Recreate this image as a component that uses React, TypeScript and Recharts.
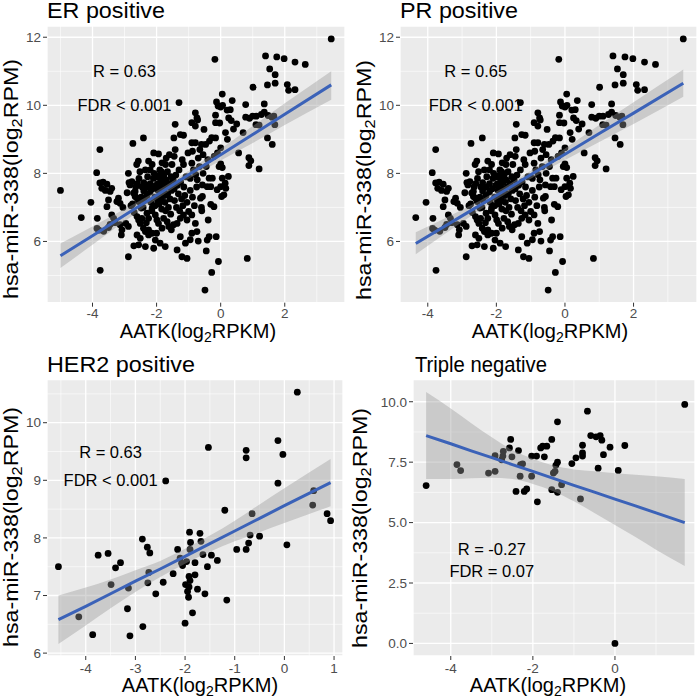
import React from "react";
import {
  Area,
  CartesianGrid,
  ComposedChart,
  Line,
  ReferenceDot,
  ReferenceLine,
  Scatter,
  XAxis,
  YAxis
} from "recharts";

type Pt = [number, number];
// [x, lower, fit, upper] of the smooth line and its confidence band
type BandRow = [number, number, number, number];

const FONT = "'Liberation Sans', Arial, Helvetica, sans-serif";

// ER positive: AATK vs hsa-miR-338
const erPoints: Pt[] = [
  [-5.0, 7.5], [-4.35, 6.7], [-4.05, 7.15], [-3.87, 8.02], [-3.77, 8.7], [-3.85, 6.68], [-3.86, 6.38],
  [-3.8, 6.33], [-3.76, 5.15], [-3.77, 7.72], [-3.67, 7.74], [-3.71, 7.56], [-3.6, 7.5], [-3.55, 7.68],
  [-3.55, 7.02], [-3.5, 7.22], [-3.65, 6.3],
  [-3.45, 7.47], [-3.4, 7.56], [-3.45, 6.5], [-3.5, 6.41], [-3.4, 6.78], [-3.34, 6.68], [-3.24, 7.17],
  [-3.19, 7.27], [-3.14, 7.12], [-3.14, 6.49], [-3.08, 6.34], [-3.1, 6.19], [-3.3, 6.55], [-3.05, 7.0],
  [-2.96, 6.53], [-2.88, 6.44], [-2.88, 8.0], [-2.86, 7.73], [-2.92, 7.43], [-2.88, 5.55], [-2.83, 7.66],
  [-2.77, 7.76], [-2.74, 8.88], [-2.72, 7.42], [-2.67, 7.32], [-2.67, 7.47], [-2.61, 7.27], [-2.56, 7.17],
  [-2.48, 6.98], [-2.71, 5.87], [-2.61, 6.73], [-2.56, 6.63], [-2.61, 6.19], [-2.51, 6.09], [-2.51, 6.53],
  [-2.56, 5.9], [-2.57, 8.36], [-2.62, 8.26], [-2.7, 6.85], [-2.75, 7.1], [-2.8, 7.05], [-2.65, 7.6],
  [-2.55, 7.85], [-2.52, 8.05], [-2.6, 7.7],
  [-2.41, 9.04], [-2.46, 6.68], [-2.41, 6.39], [-2.35, 6.29], [-2.35, 5.85], [-2.3, 6.83], [-2.25, 6.68],
  [-2.25, 6.34], [-2.25, 6.19], [-2.25, 8.36], [-2.14, 8.26], [-2.14, 6.24], [-2.14, 6.98], [-2.09, 5.8],
  [-2.09, 8.6], [-2.04, 6.04], [-2.04, 6.78], [-2.0, 6.24], [-2.4, 7.73], [-2.4, 7.48], [-2.38, 7.2],
  [-2.42, 7.0], [-2.3, 7.6], [-2.3, 7.35], [-2.28, 7.9], [-2.2, 8.1], [-2.2, 7.7], [-2.2, 7.45],
  [-2.18, 7.15], [-2.15, 6.9], [-2.12, 7.55], [-2.1, 7.85], [-2.08, 8.0], [-2.05, 7.3], [-2.05, 7.05],
  [-2.02, 7.65], [-2.45, 7.6], [-2.35, 8.1], [-2.48, 7.3], [-2.32, 6.55],
  [-1.99, 6.63], [-1.94, 6.53], [-1.94, 8.57], [-1.89, 5.95], [-1.83, 6.39], [-1.83, 8.31], [-1.78, 6.68],
  [-1.73, 5.85], [-1.72, 8.26], [-1.67, 6.58], [-1.62, 6.44], [-1.54, 6.34], [-1.52, 8.26], [-1.98, 7.9],
  [-1.96, 7.7], [-1.95, 7.5], [-1.93, 7.3], [-1.92, 7.1], [-1.9, 8.1], [-1.88, 7.85], [-1.87, 7.6],
  [-1.86, 7.4], [-1.85, 7.2], [-1.84, 6.95], [-1.82, 8.0], [-1.8, 7.75], [-1.78, 7.55], [-1.77, 7.95],
  [-1.75, 7.35], [-1.74, 7.15], [-1.72, 6.9], [-1.7, 7.8], [-1.68, 7.6], [-1.66, 8.05], [-1.65, 7.4],
  [-1.63, 7.0], [-1.6, 7.7], [-1.58, 7.25], [-1.56, 6.8], [-1.55, 7.9], [-1.53, 7.5], [-1.9, 7.95],
  [-1.85, 8.05], [-1.8, 7.92], [-1.76, 7.82], [-1.97, 7.2], [-1.6, 8.55], [-1.7, 8.45],
  [-1.47, 6.49], [-1.46, 9.04], [-1.42, 9.44], [-1.42, 8.7], [-1.36, 6.53], [-1.36, 5.75], [-1.3, 10.08],
  [-1.26, 9.14], [-1.26, 6.68], [-1.26, 6.14], [-1.21, 5.55], [-1.16, 9.12], [-1.16, 8.26], [-1.16, 6.78],
  [-1.1, 5.95], [-1.05, 5.5], [-1.05, 6.63], [-1.0, 6.88], [-1.48, 7.8], [-1.45, 7.55], [-1.44, 7.2],
  [-1.4, 7.95], [-1.38, 7.0], [-1.35, 7.65], [-1.32, 7.4], [-1.3, 8.1], [-1.28, 6.9], [-1.25, 7.75],
  [-1.22, 7.25], [-1.2, 8.4], [-1.18, 7.05], [-1.15, 7.6], [-1.12, 7.35], [-1.08, 7.9], [-1.05, 7.15],
  [-1.02, 8.6], [-1.45, 8.5],
  [-0.9, 6.78], [-0.9, 6.24], [-0.95, 6.05], [-0.9, 8.9], [-0.79, 8.9], [-0.88, 8.65], [-0.9, 9.49],
  [-0.79, 9.39], [-0.79, 9.78], [-0.74, 9.63], [-0.79, 6.53], [-0.74, 6.29], [-0.78, 7.96], [-0.73, 7.81],
  [-0.72, 9.57], [-0.7, 6.01], [-0.66, 8.2], [-0.63, 7.27], [-0.59, 6.9], [-0.57, 7.32], [-0.57, 7.66],
  [-0.52, 9.29], [-0.49, 4.57], [-0.45, 5.72], [-0.95, 7.5], [-0.88, 7.3], [-0.85, 8.1], [-0.82, 7.05],
  [-0.75, 7.6], [-0.7, 8.45], [-0.65, 8.7], [-0.6, 7.0], [-0.55, 8.0], [-0.55, 8.55], [-0.9, 8.3],
  [-0.95, 7.85], [-0.6, 8.85],
  [-0.42, 6.04], [-0.36, 6.14], [-0.39, 6.63], [-0.42, 7.61], [-0.36, 7.86], [-0.31, 7.61], [-0.31, 7.09],
  [-0.28, 5.09], [-0.28, 9.05], [-0.26, 7.86], [-0.21, 7.02], [-0.18, 11.35], [-0.16, 9.71], [-0.16, 9.49],
  [-0.16, 9.04], [-0.14, 6.14], [-0.13, 10.1], [-0.11, 7.52], [-0.08, 9.98], [-0.07, 5.41], [-0.05, 8.2],
  [-0.03, 9.48], [0.0, 9.95], [0.0, 7.61], [0.0, 8.75], [0.0, 8.28], [-0.47, 8.85], [-0.4, 8.4],
  [-0.35, 8.95], [-0.2, 8.5], [-0.1, 8.6], [-0.45, 8.2],
  [0.05, 10.33], [0.06, 10.0], [0.03, 7.32], [0.05, 7.86], [0.05, 8.17], [0.1, 7.37], [0.14, 7.71],
  [0.16, 7.56], [0.24, 7.91], [0.2, 9.86], [0.21, 9.0], [0.25, 9.63], [0.3, 9.87], [0.33, 9.55],
  [0.36, 10.14], [0.56, 8.6], [0.78, 10.02], [0.78, 9.65], [0.83, 5.5], [0.88, 8.46], [0.88, 8.23],
  [0.9, 9.62], [0.94, 8.37], [0.4, 9.3], [0.5, 9.45], [0.7, 9.2], [0.15, 9.2],
  [1.0, 9.68], [1.01, 10.53], [1.1, 9.43], [1.11, 9.68], [1.2, 9.42], [1.2, 8.13], [1.27, 9.73],
  [1.36, 10.04], [1.36, 9.8], [1.4, 11.45], [1.46, 10.6], [1.46, 9.04], [1.48, 9.7], [1.53, 11.07],
  [1.6, 9.65], [1.61, 8.85], [1.66, 9.68], [1.69, 9.43], [1.7, 10.9], [1.7, 10.65], [1.75, 11.42],
  [1.98, 11.37], [2.08, 10.61], [2.12, 10.44], [2.32, 11.27], [2.32, 10.46], [2.64, 11.2], [3.45, 11.95]
];

// PR positive shows the same samples, without the point at x = -5
const prPoints: Pt[] = erPoints.filter(([x]) => x > -4.9);

const herPoints: Pt[] = [
  [-4.55, 7.5], [-4.14, 6.63], [-3.86, 6.32], [-3.75, 7.7], [-3.55, 7.73], [-3.3, 7.57], [-3.4, 7.48],
  [-3.49, 7.19], [-3.14, 7.13], [-3.16, 6.77], [-3.11, 6.3], [-2.85, 6.46], [-2.86, 7.98], [-2.76, 7.84],
  [-2.71, 7.74], [-2.73, 7.4], [-2.75, 7.22], [-2.59, 7.03], [-2.44, 7.23], [-2.39, 8.99], [-2.24, 7.38],
  [-2.15, 7.8], [-2.1, 7.65], [-2.07, 7.56], [-2.05, 7.52], [-1.99, 7.19], [-1.97, 7.59], [-2.0, 6.52],
  [-1.95, 7.07], [-1.93, 6.97], [-1.91, 8.1], [-1.89, 7.92], [-1.9, 7.8], [-1.92, 7.33], [-1.9, 7.26],
  [-1.92, 7.15], [-1.85, 6.7], [-1.8, 7.57], [-1.8, 7.36], [-1.75, 7.11], [-1.7, 8.08], [-1.68, 7.94],
  [-1.64, 7.71], [-1.6, 7.03], [-1.55, 7.5], [-1.53, 9.57], [-1.47, 7.7], [-1.35, 7.61], [-1.2, 8.48],
  [-1.16, 6.92], [-0.96, 7.8], [-0.77, 9.52], [-0.77, 9.39], [-0.77, 7.8], [-0.72, 7.91], [-0.69, 8.05],
  [-0.65, 8.42], [-0.5, 8.03], [-0.13, 9.69], [-0.13, 8.95], [-0.03, 9.45], [0.05, 7.88], [0.26, 10.53],
  [0.59, 8.82], [0.57, 8.57], [0.86, 8.42], [0.93, 8.3]
];

const tnPoints: Pt[] = [
  [-4.6, 6.53], [-3.85, 7.4], [-3.76, 7.15], [-3.08, 7.05], [-2.92, 7.12], [-2.92, 7.77], [-2.73, 7.75],
  [-2.72, 7.95], [-2.76, 7.6], [-2.54, 8.44], [-2.57, 8.09], [-2.51, 7.72], [-2.41, 6.29], [-2.35, 7.98],
  [-2.31, 6.92], [-2.3, 7.4], [-2.25, 7.43], [-2.21, 6.29], [-2.15, 6.39], [-2.03, 7.75], [-2.03, 6.92],
  [-1.91, 7.75], [-1.89, 5.86], [-1.81, 8.09], [-1.76, 8.16], [-1.72, 7.72], [-1.66, 8.16], [-1.54, 8.44],
  [-1.54, 6.36], [-1.5, 7.05], [-1.46, 7.12], [-1.44, 7.37], [-1.4, 9.17], [-1.4, 7.5], [-1.4, 6.25],
  [-1.3, 6.57], [-1.05, 7.44], [-0.95, 7.68], [-0.84, 5.98], [-0.79, 8.2], [-0.79, 7.88], [-0.79, 7.75],
  [-0.67, 9.61], [-0.59, 8.6], [-0.46, 8.55], [-0.41, 7.25], [-0.36, 8.6], [-0.32, 8.41], [-0.28, 7.81],
  [-0.12, 8.12], [0.0, 0.0], [0.08, 7.16], [0.24, 8.19], [1.7, 9.89]
];

const erBand: BandRow[] = [
  [-5, 5.22, 5.58, 5.94], [-4, 5.9, 6.17, 6.44], [-3, 6.59, 6.77, 6.95], [-2, 7.24, 7.36, 7.48],
  [-1.5, 7.55, 7.66, 7.77], [-1, 7.84, 7.96, 8.08], [0, 8.38, 8.55, 8.72], [1, 8.89, 9.14, 9.39],
  [2, 9.42, 9.74, 10.06], [3.45, 10.16, 10.6, 11.0]
];
const prBand: BandRow[] = [
  [-4.35, 5.62, 5.94, 6.27], [-3, 6.57, 6.75, 6.93], [-2, 7.23, 7.35, 7.47], [-1.5, 7.54, 7.65, 7.76],
  [-1, 7.84, 7.96, 8.08], [0, 8.39, 8.56, 8.73], [1, 8.92, 9.17, 9.42], [2, 9.45, 9.77, 10.09],
  [3.45, 10.25, 10.65, 11.05]
];
const herBand: BandRow[] = [
  [-4.55, 6.16, 6.58, 7.0], [-4, 6.48, 6.81, 7.14], [-3.5, 6.78, 7.03, 7.28], [-3, 7.06, 7.25, 7.44],
  [-2.5, 7.32, 7.46, 7.6], [-2, 7.55, 7.68, 7.81], [-1.5, 7.76, 7.9, 8.04], [-1, 7.94, 8.12, 8.3],
  [-0.5, 8.1, 8.34, 8.58], [0, 8.26, 8.56, 8.86], [0.93, 8.55, 8.96, 9.37]
];
const tnBand: BandRow[] = [
  [-4.6, 6.8, 8.6, 10.4], [-4, 6.8, 8.26, 9.72], [-3.5, 6.83, 7.97, 9.11], [-3, 6.85, 7.69, 8.53],
  [-2.5, 6.8, 7.4, 8.0], [-2, 6.6, 7.12, 7.64], [-1.5, 6.3, 6.83, 7.36], [-1, 5.88, 6.54, 7.2],
  [-0.5, 5.4, 6.26, 7.12], [0, 4.9, 5.97, 7.04], [0.5, 4.4, 5.69, 6.98], [1, 3.88, 5.4, 6.92],
  [1.7, 3.2, 5.0, 6.8]
];

const erXTicks = [-4, -2, 0, 2];
const erXMinor = [-5, -3, -1, 1, 3];
const prXMinor = [-3, -1, 1, 3];
const erYTicks = [6, 8, 10, 12];
const erYMinor = [5, 7, 9, 11];
const herXTicks = [-4, -3, -2, -1, 0, 1];
const herXMinor = [-4.5, -3.5, -2.5, -1.5, -0.5, 0.5];
const herYTicks = [6, 7, 8, 9, 10];
const herYMinor = [6.5, 7.5, 8.5, 9.5, 10.5];
const tnXTicks = [-4, -2, 0];
const tnXMinor = [-3, -1, 1];
const tnYTicks = [0, 2.5, 5, 7.5, 10];
const tnYMinor = [1.25, 3.75, 6.25, 8.75];

const erNotes = [{ x: -3, y: 11, text: "R = 0.63" }, { x: -3, y: 10, text: "FDR < 0.001" }];
const prNotes = [{ x: -2.6, y: 11, text: "R = 0.65" }, { x: -2.6, y: 10, text: "FDR < 0.001" }];
const herNotes = [{ x: -3.5, y: 9.5, text: "R = 0.63" }, { x: -3.5, y: 9.0, text: "FDR < 0.001" }];
const tnNotes = [{ x: -3, y: 3.9, text: "R = -0.27" }, { x: -3, y: 3.0, text: "FDR = 0.07" }];

const X_AXIS_H = 30;
const tickStyle = { fill: "#4d4d4d", fontSize: 13.5, fontFamily: FONT };

const Dot = (props: any) => <circle cx={props.cx} cy={props.cy} r={3.4} fill="#000" />;

interface PanelProps {
  cell: { x: number; y: number; w: number; h: number };
  plot: { left: number; top: number; right: number; bottom: number };
  xDomain: [number, number];
  yDomain: [number, number];
  xTicks: number[];
  yTicks: number[];
  xMinor: number[];
  yMinor: number[];
  points: Pt[];
  band: BandRow[];
  notes: { x: number; y: number; text: string }[];
  xTickGap?: number;
  yFmt?: (v: number) => string;
}

function Panel(p: PanelProps) {
  const margin = {
    top: p.plot.top - p.cell.y,
    right: p.cell.x + p.cell.w - p.plot.right,
    left: 0,
    bottom: p.cell.y + p.cell.h - p.plot.bottom - X_AXIS_H
  };
  // the smooth layer sits on top of the points, with hidden axes and the same plot box
  const overlayMargin = {
    top: p.plot.top - p.cell.y,
    right: p.cell.x + p.cell.w - p.plot.right,
    left: p.plot.left - p.cell.x,
    bottom: p.cell.y + p.cell.h - p.plot.bottom
  };
  const bandData = p.band.map(([x, lo, fit, hi]) => ({ x, band: [lo, hi], fit }));
  const pts = p.points.map(([x, y]) => ({ x, y }));

  return (
    <>
      <div style={{ position: "absolute", left: p.cell.x, top: p.cell.y }}>
        <ComposedChart width={p.cell.w} height={p.cell.h} margin={margin}>
          <CartesianGrid fill="#ebebeb" stroke="#ffffff" strokeWidth={1.3} />
          <XAxis
            type="number"
            dataKey="x"
            domain={p.xDomain}
            ticks={p.xTicks}
            interval={0}
            allowDataOverflow
            axisLine={false}
            tickLine={{ stroke: "#333333" }}
            tickSize={4}
            tickMargin={p.xTickGap ?? 2}
            height={X_AXIS_H}
            tick={tickStyle}
          />
          <YAxis
            type="number"
            domain={p.yDomain}
            ticks={p.yTicks}
            interval={0}
            allowDataOverflow
            axisLine={false}
            tickLine={{ stroke: "#333333" }}
            tickSize={4}
            tickMargin={2}
            width={p.plot.left - p.cell.x}
            tick={tickStyle}
            tickFormatter={p.yFmt}
          />
          {p.xMinor.map((v) => (
            <ReferenceLine key={"mx" + v} x={v} stroke="#ffffff" strokeWidth={0.6} />
          ))}
          {p.yMinor.map((v) => (
            <ReferenceLine key={"my" + v} y={v} stroke="#ffffff" strokeWidth={0.6} />
          ))}
          <Scatter data={pts} dataKey="y" shape={Dot} isAnimationActive={false} />
          {p.notes.map((n) => (
            <ReferenceDot
              key={n.text}
              x={n.x}
              y={n.y}
              r={0}
              ifOverflow="visible"
              shape={(s: any) => (
                <text
                  x={s.cx}
                  y={s.cy + 6}
                  textAnchor="middle"
                  fontSize={16.5}
                  fontFamily={FONT}
                  fill="#000"
                >
                  {n.text}
                </text>
              )}
            />
          ))}
        </ComposedChart>
      </div>
      <div style={{ position: "absolute", left: p.cell.x, top: p.cell.y }}>
        <ComposedChart width={p.cell.w} height={p.cell.h} data={bandData} margin={overlayMargin}>
          <XAxis type="number" dataKey="x" domain={p.xDomain} allowDataOverflow hide />
          <YAxis type="number" domain={p.yDomain} allowDataOverflow hide />
          <Area
            dataKey="band"
            type="monotone"
            fill="#999999"
            fillOpacity={0.4}
            stroke="none"
            isAnimationActive={false}
          />
          <Line
            dataKey="fit"
            type="linear"
            stroke="#3b62b8"
            strokeWidth={3}
            dot={false}
            isAnimationActive={false}
          />
        </ComposedChart>
      </div>
    </>
  );
}

const titles = [
  { x: 47, y: 17.5, len: 118, text: "ER positive" },
  { x: 400, y: 17.5, len: 118, text: "PR positive" },
  { x: 47, y: 372, len: 148, text: "HER2 positive" },
  { x: 415, y: 372, len: 132, text: "Triple negative" }
];
const xTitles = [
  { x: 198, y: 338 },
  { x: 550, y: 338 },
  { x: 200, y: 692 },
  { x: 548, y: 692 }
];
const yTitles = [
  { x: 18, y: 179 },
  { x: 371, y: 180 },
  { x: 18, y: 527 },
  { x: 367, y: 528 }
];

export default function App() {
  return (
    <div
      style={{
        position: "absolute",
        left: 0,
        top: 0,
        width: 700,
        height: 697,
        background: "#ffffff",
        fontFamily: FONT,
        overflow: "hidden"
      }}
    >
      <Panel
        cell={{ x: 0, y: 0, w: 350, h: 348 }}
        plot={{ left: 47, top: 26, right: 345, bottom: 302.7 }}
        xDomain={[-5.42, 3.88]}
        yDomain={[4.2, 12.33]}
        xTicks={erXTicks}
        yTicks={erYTicks}
        xMinor={erXMinor}
        yMinor={erYMinor}
        points={erPoints}
        band={erBand}
        notes={erNotes}
      />
      <Panel
        cell={{ x: 350, y: 0, w: 350, h: 348 }}
        plot={{ left: 400, top: 26, right: 697, bottom: 302.7 }}
        xDomain={[-4.81, 3.85]}
        yDomain={[4.2, 12.33]}
        xTicks={erXTicks}
        yTicks={erYTicks}
        xMinor={prXMinor}
        yMinor={erYMinor}
        points={prPoints}
        band={prBand}
        notes={prNotes}
      />
      <Panel
        cell={{ x: 0, y: 348, w: 350, h: 349 }}
        plot={{ left: 47, top: 379.5, right: 343, bottom: 656 }}
        xDomain={[-4.78, 1.18]}
        yDomain={[5.95, 10.75]}
        xTicks={herXTicks}
        yTicks={herYTicks}
        xMinor={herXMinor}
        yMinor={herYMinor}
        points={herPoints}
        band={herBand}
        notes={herNotes}
        xTickGap={3}
      />
      <Panel
        cell={{ x: 350, y: 348, w: 350, h: 349 }}
        plot={{ left: 413, top: 379.5, right: 695, bottom: 656 }}
        xDomain={[-4.92, 1.95]}
        yDomain={[-0.52, 10.92]}
        xTicks={tnXTicks}
        yTicks={tnYTicks}
        xMinor={tnXMinor}
        yMinor={tnYMinor}
        points={tnPoints}
        band={tnBand}
        notes={tnNotes}
        xTickGap={3}
        yFmt={(v: number) => v.toFixed(1)}
      />
      <svg
        width={700}
        height={697}
        style={{ position: "absolute", left: 0, top: 0, pointerEvents: "none" }}
      >
        {titles.map((t) => (
          <text
            key={t.text}
            x={t.x}
            y={t.y}
            fontSize={21.5}
            fontFamily={FONT}
            fill="#000"
            textLength={t.len}
            lengthAdjust="spacingAndGlyphs"
          >
            {t.text}
          </text>
        ))}
        {xTitles.map((t, i) => (
          <text key={"x" + i} x={t.x} y={t.y} fontSize={20} fontFamily={FONT} fill="#000" textAnchor="middle">
            AATK(log
            <tspan fontSize={14} dy={3.5}>2</tspan>
            <tspan dy={-3.5}>RPKM)</tspan>
          </text>
        ))}
        {yTitles.map((t, i) => (
          <text
            key={"y" + i}
            transform={`translate(${t.x},${t.y}) rotate(-90)`}
            fontSize={20.5}
            fontFamily={FONT}
            fill="#000"
            textAnchor="middle"
            textLength={240}
            lengthAdjust="spacingAndGlyphs"
          >
            hsa-miR-338(log
            <tspan fontSize={14.5} dy={4}>2</tspan>
            <tspan dy={-4}>RPM)</tspan>
          </text>
        ))}
      </svg>
    </div>
  );
}
